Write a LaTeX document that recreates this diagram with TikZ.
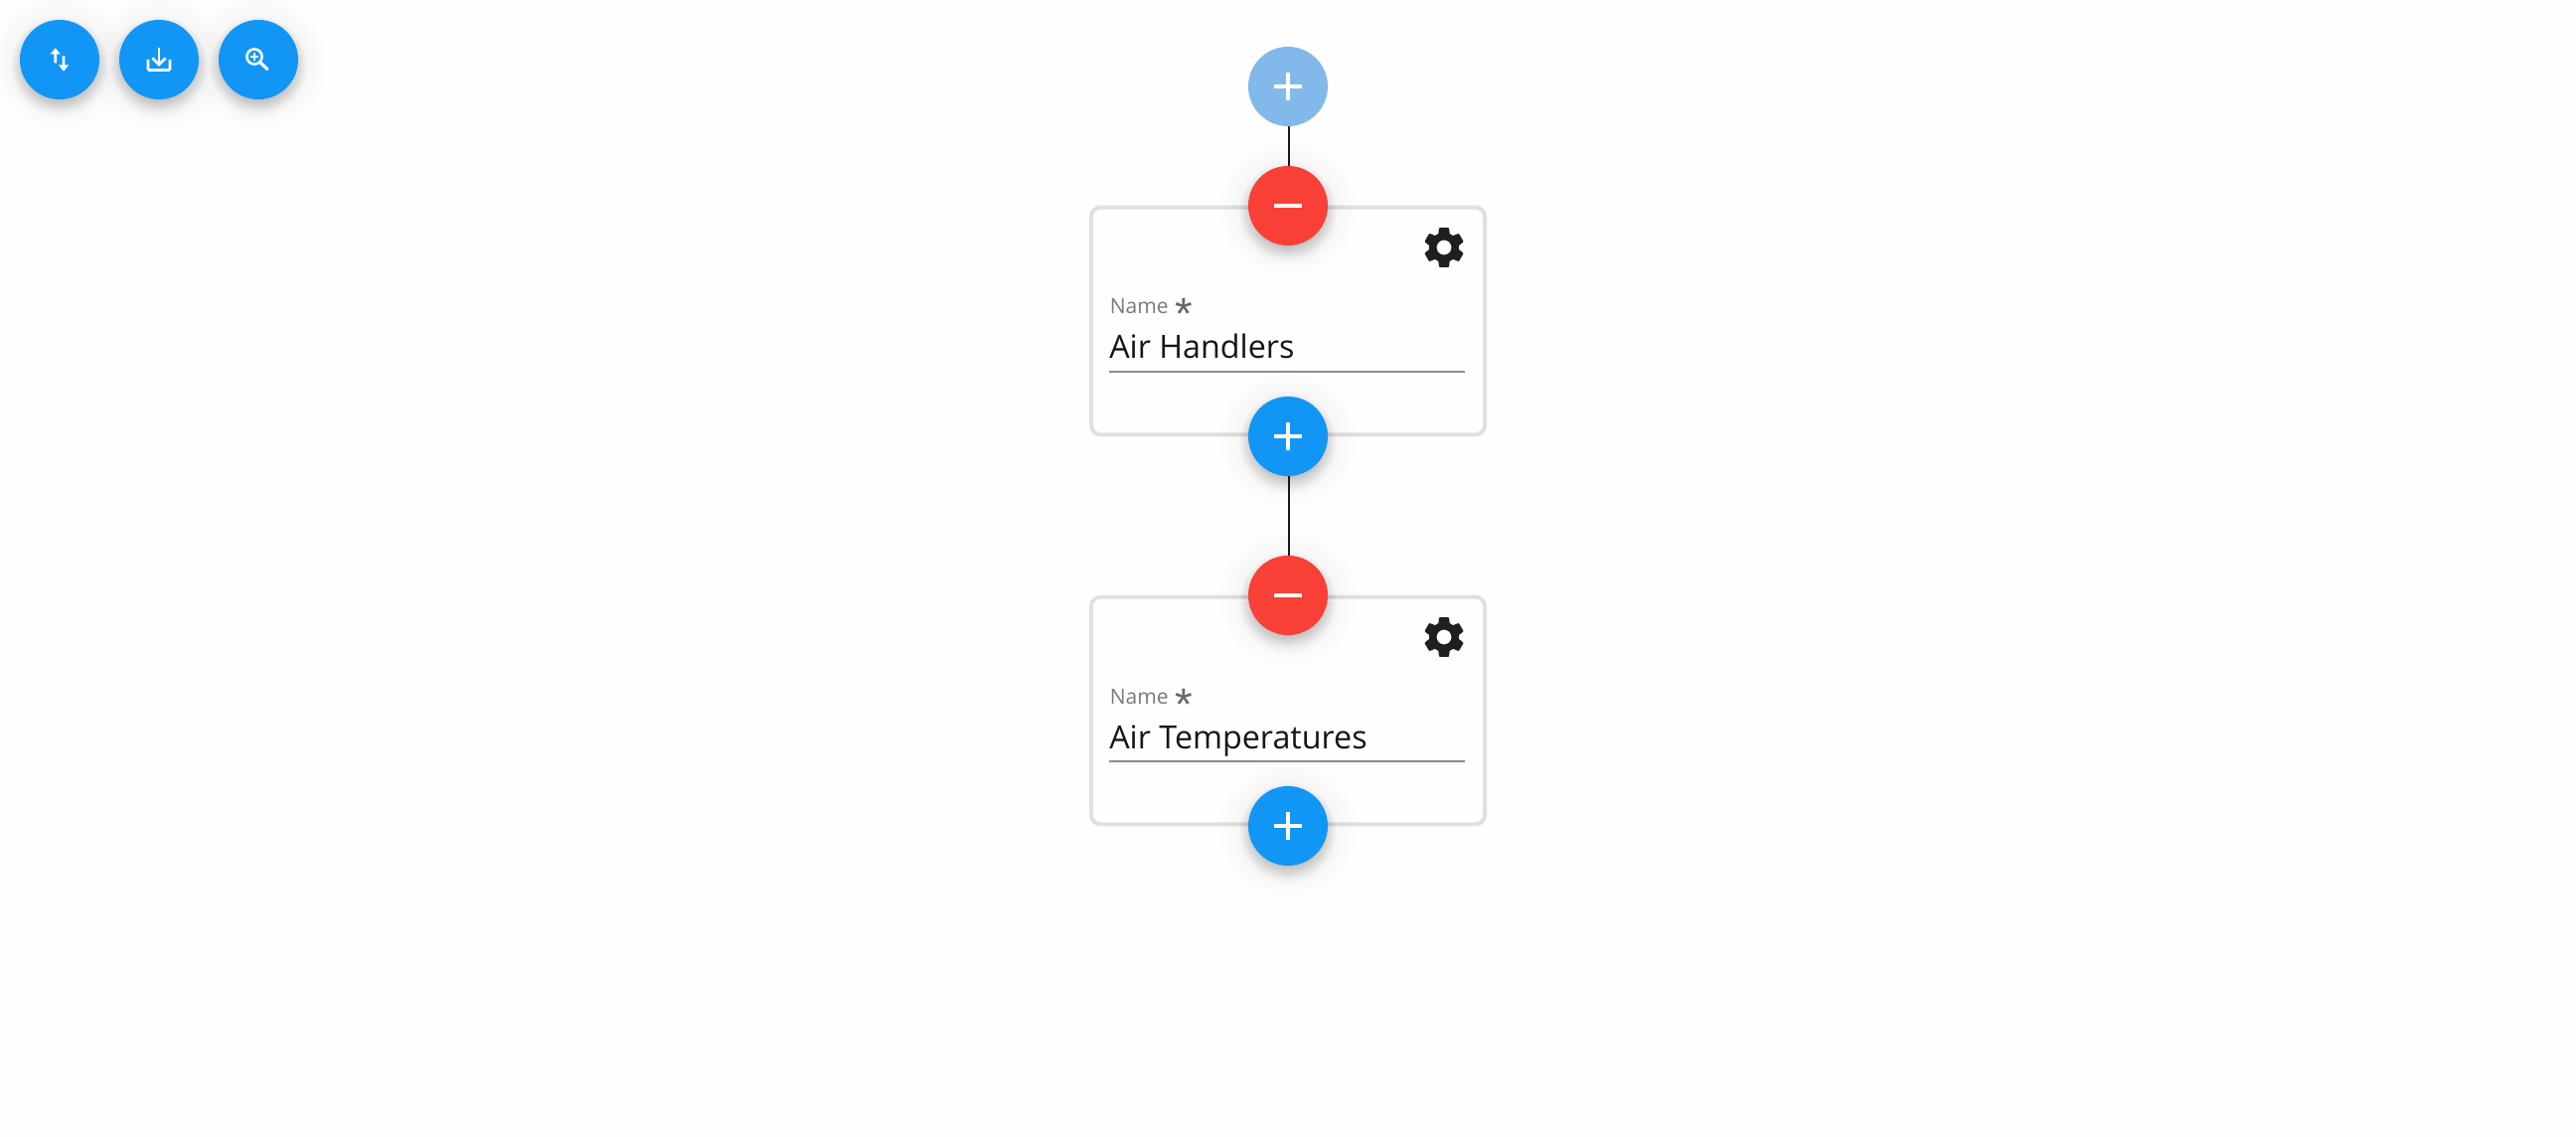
\documentclass[tikz,border=0pt]{standalone}
\usepackage{fontspec}
\setmainfont{Open Sans}
\newfontfamily\starfont{Liberation Sans}
\definecolor{pagebg}{HTML}{FEFEFE}
\definecolor{fabblue}{HTML}{1296F6}
\definecolor{fabred}{HTML}{F94037}
\definecolor{fabpale}{HTML}{82B9EB}
\definecolor{cardline}{HTML}{E0E1DF}
\definecolor{inkdark}{HTML}{1F201E}
\definecolor{valueink}{HTML}{161616}
\definecolor{labelgray}{HTML}{7A7A7A}
\definecolor{stargray}{HTML}{666666}
\definecolor{rulegray}{HTML}{8C8C8C}
\tikzset{
  x=0.75pt,y=-0.75pt,
  fab/.style={circle,minimum size=60pt,inner sep=0pt,fill=#1},
  glyph/.style={draw=white,line width=3.4pt,line cap=butt},
  thinglyph/.style={draw=white,line width=2pt},
  card/.style={draw=cardline,line width=3pt,rounded corners=7pt,fill=none},
  link/.style={draw=black!90,line width=1.6pt},
  namelabel/.style={anchor=base west,inner sep=0pt,text=labelgray,font=\fontsize{15.75}{18}\selectfont},
  valuelabel/.style={anchor=base west,inner sep=0pt,text=valueink,font=\fontsize{24.2}{28}\selectfont},
  starlabel/.style={anchor=base,inner sep=0pt,text=stargray,font=\starfont\fontsize{34}{34}\selectfont},
  field/.style={draw=rulegray,line width=1.5pt},
  gearshape/.pic={
    \fill[inkdark,even odd rule,x=1.56pt,y=-1.56pt,shift={(-12,-12)}]
      (19.14,12.94)--(19.2,12)--(19.13,11.06)--(21.16,9.48)--(21.28,8.87)--(19.36,5.55)--(18.77,5.33)--(16.38,6.29)--(14.76,5.35)--(14.4,2.81)--(13.92,2.4)--(10.08,2.4)--(9.61,2.81)--(9.25,5.35)--(7.63,6.29)--(5.24,5.33)--(4.65,5.55)--(2.74,8.87)--(2.86,9.48)--(4.89,11.06)--(4.8,12)--(4.87,12.94)--(2.84,14.52)--(2.72,15.13)--(4.64,18.45)--(5.23,18.67)--(7.62,17.71)--(9.24,18.65)--(9.6,21.19)--(10.08,21.6)--(13.92,21.6)--(14.39,21.19)--(14.75,18.65)--(16.37,17.71)--(18.76,18.67)--(19.35,18.45)--(21.27,15.13)--(21.15,14.52)--cycle
      (12,12) circle[radius=3.6];
  }
}
% soft shadow of a round button: three blurred layers built from rings
\newcommand{\fabshadow}[2]{%
  \foreach \r in {34,36,...,48}{\fill[black,opacity=0.016] (#1,#2+5) circle[radius=\r];}
  \foreach \r in {32,34.5,...,50}{\fill[black,opacity=0.010] (#1,#2+9) circle[radius=\r];}
  \foreach \r in {42,45,...,69}{\fill[black,opacity=0.0055] (#1,#2+3) circle[radius=\r];}
}
\newcommand{\plusglyph}[2]{%
  \draw[glyph] (#1-14,#2)--(#1+14,#2);
  \draw[glyph] (#1,#2-14)--(#1,#2+14);
}
\newcommand{\minusglyph}[2]{\draw[glyph] (#1-14,#2)--(#1+14,#2);}
\begin{document}
\begin{tikzpicture}
\useasboundingbox (0,0) rectangle (2592,1144);
\fill[pagebg] (0,0) rectangle (2592,1144);

% cards
\node[card,minimum width=297pt,minimum height=171.5pt,inner sep=0pt] (card1) at (1296,323) {};
\node[card,minimum width=297pt,minimum height=171.5pt,inner sep=0pt] (card2) at (1296,715) {};
\pic at (1453,249) {gearshape};
\pic at (1453,641) {gearshape};

% card 1 contents
\node[namelabel] (name1) at (1116.5,316) {Name};
\node[starlabel] (star1) at (1191,332) {*};
\node[valuelabel] (value1) at (1116,361) {Air Handlers};
\coordinate (f1a) at (1116,374); \coordinate (f1b) at (1474,374);
\draw[field] (f1a)--(f1b);

% card 2 contents
\node[namelabel] (name2) at (1116.5,708) {Name};
\node[starlabel] (star2) at (1191,724) {*};
\node[valuelabel] (value2) at (1116,753) {Air Temperatures};
\coordinate (f2a) at (1116,766); \coordinate (f2b) at (1474,766);
\draw[field] (f2a)--(f2b);

% shadows
\fabshadow{60}{60}\fabshadow{160}{60}\fabshadow{260}{60}
\fabshadow{1296}{207}\fabshadow{1296}{439}\fabshadow{1296}{599}\fabshadow{1296}{831}

% tree buttons
\node[fab=fabpale] (root) at (1296,87) {};
\node[fab=fabred] (minus1) at (1296,207) {};
\node[fab=fabblue] (plus1) at (1296,439) {};
\node[fab=fabred] (minus2) at (1296,599) {};
\node[fab=fabblue] (plus2) at (1296,831) {};
\draw[link] ([xshift=.5pt]root.south)--([xshift=.5pt]minus1.north);
\draw[link] ([xshift=.5pt]plus1.south)--([xshift=.5pt]minus2.north);
\plusglyph{1296}{87}\minusglyph{1296}{207}\plusglyph{1296}{439}\minusglyph{1296}{599}\plusglyph{1296}{831}

% toolbar
\node[fab=fabblue] (swapbtn) at (60,60) {};
\node[fab=fabblue] (savebtn) at (160,60) {};
\node[fab=fabblue] (zoombtn) at (260,60) {};

% swap icon
\fill[white] (55.7,48.3)--(60.8,54.5)--(57.1,54.5)--(57.1,63.5)--(54.3,63.5)--(54.3,54.5)--(50.6,54.5)--cycle;
\fill[white] (64,71.7)--(69,65.5)--(65.4,65.5)--(65.4,56.5)--(62.6,56.5)--(62.6,65.5)--(59,65.5)--cycle;
% download icon
\draw[thinglyph,rounded corners=1pt] (149,60)--(149,70.5)--(171,70.5)--(171,60);
\draw[thinglyph] (160,48)--(160,64);
\draw[thinglyph] (153.5,58.5)--(160,65)--(166.5,58.5);
% zoom icon
\draw[thinglyph,line width=1.9pt] (256,57) circle[radius=7.6];
\draw[thinglyph,line width=2.4pt,line cap=round] (262,63)--(269,69.5);
\draw[thinglyph,line width=1pt] (252,57)--(260,57);
\draw[thinglyph,line width=1pt] (256,53)--(256,61);
\end{tikzpicture}
\end{document}
